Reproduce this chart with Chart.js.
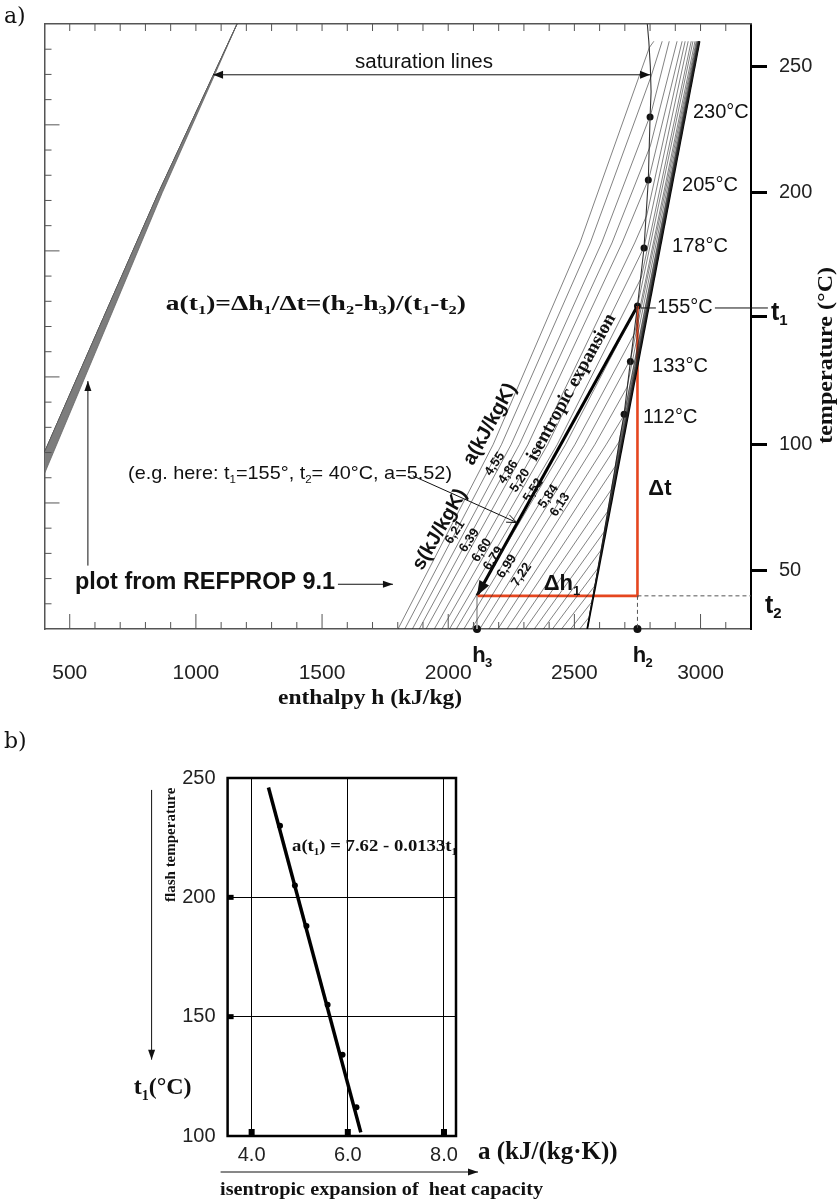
<!DOCTYPE html>
<html>
<head>
<meta charset="utf-8">
<title>Flash temperature and isentropic expansion</title>
<script src="https://cdn.jsdelivr.net/npm/chart.js@4.4.1/dist/chart.umd.min.js"></script>
<style>
  html, body { margin: 0; padding: 0; background: #fff; }
  #page { position: relative; width: 838px; height: 1203px; overflow: hidden; }
  canvas { position: absolute; left: 0; }
  #chartA { top: 0; }
  #chartB { top: 720px; }
</style>
</head>
<body>
<div id="page">
  <canvas id="chartA" width="838" height="720"></canvas>
  <canvas id="chartB" width="838" height="483"></canvas>
</div>
<script>
// ---- a) T-h diagram of water (read off the REFPROP 9.1 plot) ----
const hTicks = [500, 1000, 1500, 2000, 2500, 3000];
const tTicks = [50, 100, 151, 200, 250];   // 151 is the t1 mark on the right axis

const liquidH = [400, 632, 852, 1085, 1163];
const liquidT = [97, 150, 200, 250, 266.85];
const liquidLowH = [400, 658, 867, 1089, 1163];
const liquidLowT = [88.5, 150, 200, 250, 266.85];

const vaporH = [2551, 2574, 2592, 2626, 2660, 2676, 2697, 2722, 2750, 2776, 2793, 2800, 2804, 2801, 2795, 2789];
const vaporT = [26.85, 40, 50, 70, 90, 100, 112, 133, 155, 178, 205, 230, 240, 250, 260, 266.85];

// isentropes: h at the bottom (26.85 °C), at 100 °C, at 180 °C, on the vapour line, at the top (260 °C)
const isenS = [6.02, 6.11, 6.21, 6.30, 6.39, 6.50, 6.60, 6.70, 6.79, 6.89, 6.99, 7.10, 7.22, 7.34, 7.46, 7.58, 7.70, 7.82, 7.94, 8.06, 8.18, 8.30, 8.42];
const isenHBottom = [1801, 1828, 1858, 1885, 1912, 1945, 1975, 2005, 2032, 2062, 2092, 2125, 2161, 2197, 2233, 2269, 2305, 2341, 2377, 2413, 2449, 2485, 2521];
const isenH100 = [2178, 2211, 2249, 2282, 2316, 2357, 2394, 2432, 2465, 2502, 2540, 2581, 2626, null, null, null, null, null, null, null, null, null, null];
const isenH180 = [2522, 2563, 2608, 2649, 2689, 2739, null, null, null, null, null, null, null, null, null, null, null, null, null, null, null, null, null];
const isenTSat = [257.5, 245.8, 231.5, 218.5, 205.8, 191.0, 178.3, 166.2, 155.0, 144.2, 134.0, 122.8, 111.5, 101.1, 91.4, 82.1, 73.5, 65.4, 58.2, 50.9, 44.0, 37.6, 31.5];
const isenHSat = [2797, 2803, 2804, 2801, 2796, 2787, 2776, 2765, 2750, 2739, 2723, 2709, 2696, 2677, 2662, 2646, 2632, 2618, 2606, 2593, 2581, 2569, 2558];
const isenHTop = [2815, 2848, 2876, 2907, 2927, 2939, 2951, 2963, 2970, 2978, 2983, 2986, 2988, 2990, 2991, 2992, 2993, 2993, 2994, 2994, 2995, 2995, 2995];
const isenTTop = 260;

const lowPressH = [2551, 2996];
const lowPressT = [26.85, 260];

const flashT = [230, 205, 178, 155, 133, 112];
const flashH = [2800, 2793, 2776, 2750, 2722, 2697];
const aValues = ['4,55', '4,86', '5,20', '5,52', '5,84', '6,13'];
const sValues = ['6,21', '6,39', '6,60', '6,79', '6,99', '7,22'];

// worked example
const t1 = 155, t2 = 40, h2 = 2750, h3 = 2114;

// ---- b) a(t1) against the flash temperature ----
const aTicks = [4, 6, 8];
const t1Ticks = [100, 150, 200, 250];
const pointA = [4.59, 4.90, 5.14, 5.58, 5.89, 6.18];
const pointT = [230, 205, 188, 155, 134, 112];
const fitA = [4.35, 6.27];
const fitT = [246, 101.5];

// label anchors (h, T) in the diagram
const aValuePos = [[2185, 92.3], [2238, 89.1], [2285, 85.8], [2337, 81.9], [2397, 79.4], [2443, 76.1]];
const sValuePos = [[2027, 65.2], [2084, 62.0], [2133, 58.1], [2179, 54.8], [2232, 51.6], [2291, 48.4]];
const flashLabelPos = [[2970, 231.6], [2927, 202.6], [2887, 178.6], [2827, 154.2], [2808, 131.0], [2772, 110.8]];

const SANS = '"Liberation Sans", Arial, sans-serif';
const SERIF = '"Liberation Serif", "Times New Roman", serif';

const pts = (xs, ys) => xs.map((x, i) => ({ x: x, y: ys[i] }));

// text with '_x' subscripts; o.width stretches the run to a given length
function drawText(ctx, str, x, y, o) {
    o = o || {};
    const size = o.size || 20, fam = o.family || SANS, wt = o.weight || 'normal';
    const parts = [];
    for (let i = 0; i < str.length; i++) {
        if (str[i] === '_' && i + 1 < str.length) { parts.push({ t: str[i + 1], sub: true }); i++; }
        else if (parts.length && !parts[parts.length - 1].sub) parts[parts.length - 1].t += str[i];
        else parts.push({ t: str[i], sub: false });
    }
    const font = sub => wt + ' ' + (sub ? Math.round(size * 0.6) : size) + 'px ' + fam;
    ctx.save();
    let total = 0;
    parts.forEach(p => { ctx.font = font(p.sub); p.w = ctx.measureText(p.t).width; total += p.w; });
    ctx.translate(x, y);
    if (o.rot) ctx.rotate(o.rot * Math.PI / 180);
    if (o.width) ctx.scale(o.width / total, 1);
    let cx = o.align === 'center' ? -total / 2 : (o.align === 'right' ? -total : 0);
    ctx.fillStyle = o.color || '#111';
    ctx.textBaseline = 'middle';
    ctx.textAlign = 'left';
    parts.forEach(p => {
        ctx.font = font(p.sub);
        ctx.fillText(p.t, cx, p.sub ? size * 0.32 : 0);
        cx += p.w;
    });
    ctx.restore();
}

function arrowHead(ctx, x, y, ang, len, half, open) {
    ctx.beginPath();
    ctx.moveTo(x - len * Math.cos(ang) + half * Math.sin(ang), y - len * Math.sin(ang) - half * Math.cos(ang));
    ctx.lineTo(x, y);
    ctx.lineTo(x - len * Math.cos(ang) - half * Math.sin(ang), y - len * Math.sin(ang) + half * Math.cos(ang));
    if (open) { ctx.stroke(); } else { ctx.closePath(); ctx.fill(); }
}

function drawArrow(ctx, x1, y1, x2, y2, o) {
    o = o || {};
    const len = o.head || 10, half = o.half || len * 0.38;
    const ang = Math.atan2(y2 - y1, x2 - x1);
    ctx.save();
    ctx.strokeStyle = ctx.fillStyle = o.color || '#111';
    ctx.lineWidth = o.width || 1;
    if (!o.noLine) {
        ctx.beginPath();
        ctx.moveTo(x1, y1);
        ctx.lineTo(x2, y2);
        ctx.stroke();
    }
    arrowHead(ctx, x2, y2, ang, len, half, o.open);
    if (o.both) arrowHead(ctx, x1, y1, ang + Math.PI, len, half, o.open);
    ctx.restore();
}

function line(ctx, x1, y1, x2, y2) {
    ctx.beginPath(); ctx.moveTo(x1, y1); ctx.lineTo(x2, y2); ctx.stroke();
}

// ---------- chart a ----------
const isentropeSets = isenS.map((s, i) => {
    const d = [{ x: isenHBottom[i], y: 26.85 }];
    if (isenH100[i] !== null) d.push({ x: isenH100[i], y: 100 });
    if (isenH180[i] !== null) d.push({ x: isenH180[i], y: 180 });
    d.push({ x: isenHSat[i], y: isenTSat[i] });
    d.push({ x: isenHTop[i], y: isenTTop });
    return { data: d, showLine: true, pointRadius: 0, borderColor: 'rgba(30,30,30,0.8)', borderWidth: 0.7 };
});

const bandPts = pts(liquidH, liquidT).concat(pts(liquidLowH, liquidLowT).reverse());

const decorA = {
    id: 'decorA',
    afterDraw(chart) {
        const ctx = chart.ctx, ca = chart.chartArea;
        const xs = chart.scales.x, ys = chart.scales.y, yk = chart.scales.yK;
        const X = v => xs.getPixelForValue(v), Y = v => ys.getPixelForValue(v);

        // inside ticks
        ctx.save();
        ctx.strokeStyle = '#555';
        ctx.lineWidth = 1;
        for (let h = 500; h <= 3100; h += 100) {
            const x = X(h), len = h % 500 === 0 ? 15 : 7;
            line(ctx, x, ca.bottom, x, ca.bottom - len);
            line(ctx, x, ca.top, x, ca.top + 7);
        }
        for (let k = 310; k <= 530; k += 10) {
            const y = yk.getPixelForValue(k), len = k % 50 === 0 ? 15 : 7;
            line(ctx, ca.left, y, ca.left + len, y);
        }
        ctx.restore();

        // expansion arrow head
        drawArrow(ctx, X(h2), Y(t1), X(h3), Y(t2), { noLine: true, head: 15, half: 5.5 });

        // saturation lines arrow
        drawArrow(ctx, X(1068), Y(246.7), X(2800), Y(246.7), { both: true, head: 10, half: 4 });
        drawText(ctx, 'saturation lines', X(1904), Y(251.75), { size: 20, align: 'center', width: 138 });

        // formula
        drawText(ctx, 'a(t_1)=Δh_1/Δt=(h_2-h_3)/(t_1-t_2)', X(881), Y(155.4), { size: 20, family: SERIF, weight: 'bold', width: 300 });

        // worked example
        drawText(ctx, '(e.g. here: t_1=155°, t_2= 40°C, a=5.52)', X(731), Y(88.4), { size: 19, width: 324 });
        drawArrow(ctx, X(1860), Y(87.6), X(2272), Y(69.05), { open: true, head: 10, half: 4 });

        // REFPROP note
        drawText(ctx, 'plot from REFPROP 9.1', X(521), Y(45.05), { size: 23, weight: 'bold', width: 260 });
        drawArrow(ctx, X(1563), Y(44.6), X(1781), Y(44.6), { head: 10, half: 3.5 });
        drawArrow(ctx, X(572), Y(52), X(572), Y(125.2), { head: 10, half: 3.5 });

        // isentrope / heat-capacity labels
        drawText(ctx, 'a(kJ/kgK)', X(2166), Y(108.1), { size: 20, weight: 'bold', align: 'center', rot: -61 });
        drawText(ctx, 's(kJ/kgK)', X(1967), Y(66.3), { size: 20, weight: 'bold', align: 'center', rot: -60 });
        aValues.forEach((v, i) => drawText(ctx, v, X(aValuePos[i][0]), Y(aValuePos[i][1]), { size: 13, weight: 'bold', align: 'center', rot: -56 }));
        sValues.forEach((v, i) => drawText(ctx, v, X(sValuePos[i][0]), Y(sValuePos[i][1]), { size: 13, weight: 'bold', align: 'center', rot: -56 }));
        drawText(ctx, 'isentropic expansion', X(2489), Y(122.7), { size: 19, family: SERIF, weight: 'bold', align: 'center', rot: -61, width: 165 });

        // flash temperatures
        flashT.forEach((t, i) => drawText(ctx, t + '°C', X(flashLabelPos[i][0]), Y(flashLabelPos[i][1]), { size: 20 }));
        ctx.save();
        ctx.strokeStyle = '#111';
        ctx.lineWidth = 1;
        line(ctx, X(2764), Y(154.2), X(2823), Y(154.2));
        line(ctx, X(3057), Y(154.2), X(3267), Y(154.2));
        ctx.restore();

        drawText(ctx, 'Δt', X(2839), Y(82.6), { size: 22, weight: 'bold', align: 'center' });
        drawText(ctx, 'Δh_1', X(2451), Y(44.65), { size: 22, weight: 'bold', align: 'center' });

        // right axis marks
        drawText(ctx, 't_1', X(3279), Y(152.3), { size: 25, weight: 'bold' });
        drawText(ctx, 't_2', X(3255), Y(36.1), { size: 25, weight: 'bold' });
        drawText(ctx, 'temperature (°C)', 826, Y(135.4), { size: 22, family: SERIF, weight: 'bold', align: 'center', rot: -90, width: 177 });

        // h2, h3 under the axis
        drawText(ctx, 'h', X(h3) + 2, ca.bottom + 27, { size: 22, weight: 'bold', align: 'center' });
        drawText(ctx, '_3', X(h3) + 8, ca.bottom + 27, { size: 22, weight: 'bold' });
        drawText(ctx, 'h', X(h2) + 2, ca.bottom + 27, { size: 22, weight: 'bold', align: 'center' });
        drawText(ctx, '_2', X(h2) + 8, ca.bottom + 27, { size: 22, weight: 'bold' });

        drawText(ctx, 'enthalpy h (kJ/kg)', 370, ca.bottom + 69, { size: 22, family: SERIF, weight: 'bold', align: 'center', width: 184 });
        drawText(ctx, 'a)', 4, 17, { size: 22, family: '"DejaVu Serif", serif' });
    }
};

const datasetsA = [
    { data: bandPts, showLine: true, fill: 'shape', backgroundColor: '#7d7d7d', borderColor: '#666', borderWidth: 0.8, pointRadius: 0 },
    { data: pts(liquidH, liquidT), showLine: true, borderColor: '#111', borderWidth: 1, pointRadius: 0 },
    ...isentropeSets,
    { data: pts(lowPressH, lowPressT), showLine: true, borderColor: '#000', borderWidth: 1.8, pointRadius: 0 },
    { data: pts(vaporH, vaporT), showLine: true, borderColor: '#333', borderWidth: 1.1, pointRadius: 0 },
    { data: [{ x: h3, y: t2 }, { x: h3, y: 26.85 }], showLine: true, borderColor: '#aaa', borderWidth: 1, pointRadius: 0 },
    { data: [{ x: h2, y: t2 }, { x: 3200, y: t2 }], showLine: true, borderColor: '#555', borderWidth: 1, borderDash: [4, 3], pointRadius: 0 },
    { data: [{ x: h2, y: t2 }, { x: h2, y: 26.85 }], showLine: true, borderColor: '#555', borderWidth: 1, borderDash: [4, 3], pointRadius: 0 },
    { data: [{ x: h3, y: t2 }, { x: h2, y: t2 }, { x: h2, y: t1 }], showLine: true, borderColor: '#e5461f', borderWidth: 2.6, pointRadius: 0 },
    { data: [{ x: h2, y: t1 }, { x: h3, y: t2 }], showLine: true, borderColor: '#000', borderWidth: 3, pointRadius: 0 },
    { data: pts(flashH, flashT), pointRadius: 3.5, pointBackgroundColor: '#111', pointBorderWidth: 0 },
    { data: [{ x: h3, y: 26.85 }, { x: h2, y: 26.85 }], pointRadius: 4, pointBackgroundColor: '#111', pointBorderWidth: 0, clip: false }
].map(d => Object.assign(d, { xAxisID: 'x', yAxisID: 'y' }));

new Chart(document.getElementById('chartA'), {
    type: 'scatter',
    data: { datasets: datasetsA },
    options: {
        responsive: false,
        animation: false,
        events: [],
        layout: { padding: 0 },
        plugins: { legend: { display: false }, tooltip: { enabled: false } },
        scales: {
            x: {
                type: 'linear', position: 'bottom', min: 400, max: 3200,
                afterBuildTicks: s => { s.ticks = hTicks.map(v => ({ value: v })); },
                ticks: { font: { family: SANS, size: 21 }, color: '#222', padding: 32, maxRotation: 0, autoSkip: false, callback: v => String(v) },
                grid: { display: false, drawTicks: false },
                border: { color: '#555', width: 1.5 },
                afterFit: s => { s.height = 91; }
            },
            y: {
                type: 'linear', position: 'right', min: 26.85, max: 266.85,
                afterBuildTicks: s => { s.ticks = tTicks.map(v => ({ value: v })); },
                ticks: { font: { family: SANS, size: 20 }, color: '#222', padding: 12, callback: v => (v === 151 ? '' : String(v)) },
                grid: { drawOnChartArea: false, tickLength: 16, tickWidth: 3, tickColor: '#000' },
                border: { color: '#000', width: 2 },
                afterFit: s => { s.width = 87; }
            },
            xTop: {
                type: 'linear', position: 'top', min: 400, max: 3200,
                ticks: { display: false }, grid: { display: false, drawTicks: false },
                border: { color: '#555', width: 1.5 },
                afterFit: s => { s.height = 9; }
            },
            yK: {
                type: 'linear', position: 'left', min: 300, max: 540,
                ticks: { display: false }, grid: { display: false, drawTicks: false },
                border: { color: '#555', width: 1.5 },
                afterFit: s => { s.width = 44.5; }
            }
        }
    },
    plugins: [decorA]
});

// ---------- chart b ----------
const decorB = {
    id: 'decorB',
    afterDraw(chart) {
        const ctx = chart.ctx, ca = chart.chartArea;
        const xs = chart.scales.x, ys = chart.scales.y;
        const X = v => xs.getPixelForValue(v), Y = v => ys.getPixelForValue(v);

        ctx.save();
        ctx.strokeStyle = '#000';
        ctx.lineWidth = 2.5;
        ctx.strokeRect(ca.left, ca.top, ca.width, ca.height);
        ctx.fillStyle = '#000';
        aTicks.forEach(v => ctx.fillRect(X(v) - 3, ca.bottom - 7, 6, 7));
        [150, 200].forEach(v => ctx.fillRect(ca.left, Y(v) - 2.5, 6, 5));
        ctx.restore();

        drawText(ctx, 'a(t_1) = 7.62 - 0.0133t_1', X(4.84), Y(221.1), { size: 17, family: SERIF, weight: 'bold', width: 165 });

        drawText(ctx, 'a (kJ/(kg·K))', ca.right + 22, ca.bottom + 17, { size: 25, family: SERIF, weight: 'bold' });
        drawArrow(ctx, ca.left - 7, ca.bottom + 36, ca.right + 22, ca.bottom + 36, { head: 10, half: 3.5 });
        drawText(ctx, 'isentropic expansion of  heat capacity', 381.5, ca.bottom + 54, { size: 19, family: SERIF, weight: 'bold', align: 'center', width: 323 });

        drawArrow(ctx, ca.left - 76, Y(245), ca.left - 76, Y(132), { head: 10, half: 3.5 });
        drawText(ctx, 'flash temperature', ca.left - 56, Y(222), { size: 15, family: SERIF, weight: 'bold', align: 'center', rot: -90 });
        drawText(ctx, 't_1(°C)', ca.left - 36, Y(120), { size: 24, family: SERIF, weight: 'bold', align: 'right' });
        drawText(ctx, 'b)', 4, 22, { size: 22, family: '"DejaVu Serif", serif' });
    }
};

new Chart(document.getElementById('chartB'), {
    type: 'scatter',
    data: {
        datasets: [
            { data: pts(fitA, fitT), showLine: true, borderColor: '#000', borderWidth: 3.5, pointRadius: 0 },
            { data: pts(pointA, pointT), pointRadius: 3, pointBackgroundColor: '#000', pointBorderWidth: 0 }
        ]
    },
    options: {
        responsive: false,
        animation: false,
        events: [],
        layout: { padding: { top: 58, right: 382, left: 0, bottom: 0 } },
        plugins: { legend: { display: false }, tooltip: { enabled: false } },
        scales: {
            x: {
                type: 'linear', min: 3.5, max: 8.25,
                afterBuildTicks: s => { s.ticks = aTicks.map(v => ({ value: v })); },
                ticks: { font: { family: SANS, size: 20 }, color: '#222', padding: 7, callback: v => v.toFixed(1) },
                grid: { color: '#000', lineWidth: 1, drawTicks: false },
                border: { display: false },
                afterFit: s => { s.height = 67; }
            },
            y: {
                type: 'linear', min: 100, max: 250,
                afterBuildTicks: s => { s.ticks = t1Ticks.map(v => ({ value: v })); },
                ticks: { font: { family: SANS, size: 20 }, color: '#222', padding: 12 },
                grid: { color: '#000', lineWidth: 1, drawTicks: false },
                border: { display: false },
                afterFit: s => { s.width = 227.6; }
            }
        }
    },
    plugins: [decorB]
});
</script>
</body>
</html>
